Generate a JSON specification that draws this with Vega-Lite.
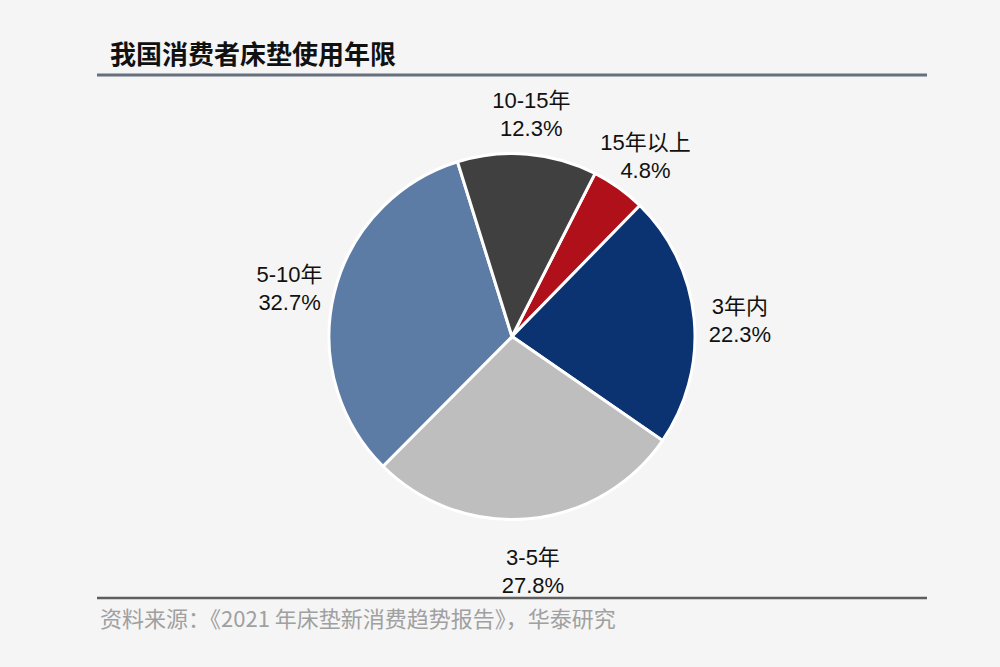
{
  "$schema": "https://vega.github.io/schema/vega-lite/v6.json",
  "width": 830,
  "height": 523,
  "autosize": {"type": "none"},
  "padding": {"left": 97, "top": 75, "right": 73, "bottom": 69},
  "background": "#f5f5f5",
  "config": {"view": {"stroke": null}},
  "title": {
    "text": "我国消费者床垫使用年限",
    "anchor": "start",
    "frame": "group",
    "offset": 5,
    "dx": 13,
    "fontSize": 26,
    "fontWeight": "bold",
    "font": "Noto Sans CJK SC",
    "color": "#111111"
  },
  "data": {
    "values": [
      {"cat": "15年以上", "pct": 4.8, "ord": 1},
      {"cat": "3年内", "pct": 22.3, "ord": 2},
      {"cat": "3-5年", "pct": 27.8, "ord": 3},
      {"cat": "5-10年", "pct": 32.7, "ord": 4},
      {"cat": "10-15年", "pct": 12.3, "ord": 5}
    ]
  },
  "layer": [
    {
      "mark": {"type": "arc", "outerRadius": 183, "stroke": "#ffffff", "strokeWidth": 3},
      "encoding": {
        "theta": {"field": "pct", "type": "quantitative", "stack": true, "scale": {"range": [0.4712, 6.7544]}},
        "order": {"field": "ord", "type": "quantitative"},
        "color": {
          "field": "cat",
          "type": "nominal",
          "scale": {
            "domain": ["15年以上", "3年内", "3-5年", "5-10年", "10-15年"],
            "range": ["#b0101a", "#0b3372", "#bebebe", "#5c7ca5", "#404040"]
          },
          "legend": null
        }
      }
    },
    {
      "transform": [{"calculate": "datum.cat + '\\n' + format(datum.pct, '.1f') + '%'", "as": "label"}],
      "mark": {
        "type": "text",
        "radius": 229,
        "dy": -7,
        "fontSize": 22,
        "lineBreak": "\n",
        "lineHeight": 28,
        "baseline": "middle",
        "font": "Liberation Sans, Noto Sans CJK SC",
        "color": "#111111"
      },
      "encoding": {
        "theta": {"field": "pct", "type": "quantitative", "stack": true, "scale": {"range": [0.4712, 6.7544]}},
        "order": {"field": "ord", "type": "quantitative"},
        "text": {"field": "label", "type": "nominal"}
      }
    },
    {
      "data": {"values": [{}]},
      "mark": {"type": "rule", "color": "#66707f", "strokeWidth": 3},
      "encoding": {"y": {"value": 0}}
    },
    {
      "data": {"values": [{}]},
      "mark": {"type": "rule", "color": "#5e5e5e", "strokeWidth": 2.5},
      "encoding": {"y": {"value": {"expr": "height"}}}
    },
    {
      "data": {"values": [{"t": "资料来源：《2021 年床垫新消费趋势报告》，华泰研究"}]},
      "mark": {"type": "text", "align": "left", "baseline": "middle", "fontSize": 22, "color": "#a0a0a0", "font": "Noto Sans CJK SC"},
      "encoding": {
        "text": {"field": "t", "type": "nominal"},
        "x": {"value": 3},
        "y": {"value": {"expr": "height + 22"}}
      }
    }
  ]
}
